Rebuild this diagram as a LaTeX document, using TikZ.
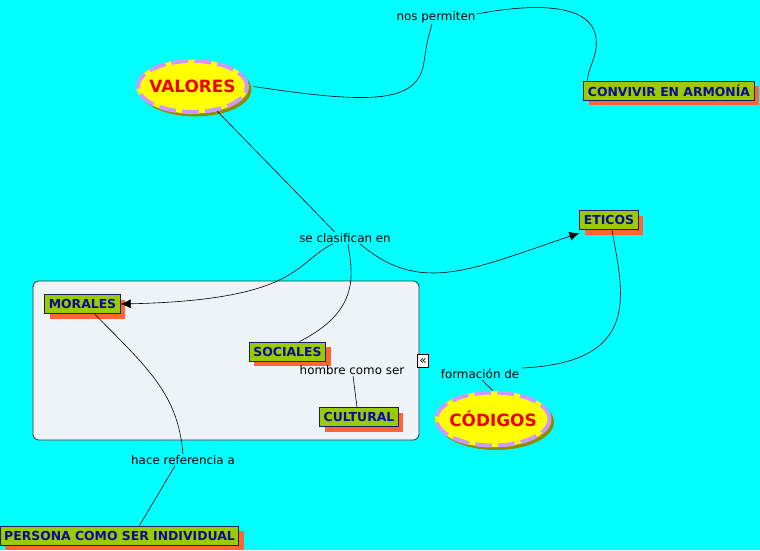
\documentclass[tikz,border=0pt]{standalone}
\usepackage{fontspec}
\setmainfont{DejaVu Sans}
\usetikzlibrary{shadows,calc,arrows.meta,shapes.geometric}
\definecolor{bgcyan}{HTML}{00FFFF}
\definecolor{boxgreen}{HTML}{99CC00}
\definecolor{boxtext}{HTML}{0A0A9E}
\definecolor{boxline}{HTML}{1A1A66}
\definecolor{shadoworange}{HTML}{FF6633}
\definecolor{ellyellow}{HTML}{FFFF00}
\definecolor{elldash}{HTML}{CC99FF}
\definecolor{ellshadow}{HTML}{8C8C00}
\definecolor{ellred}{HTML}{F00000}
\definecolor{contfill}{HTML}{EDF3F6}
\definecolor{contline}{HTML}{333333}
\tikzset{
  concept/.style={draw=boxline, line width=1pt, fill=boxgreen, text=boxtext,
    font=\fontsize{12.4}{14}\selectfont\bfseries, inner xsep=4pt, inner ysep=0pt,
    minimum height=19pt,
    drop shadow={shadow xshift=5pt, shadow yshift=-5pt, fill=shadoworange, opacity=1}},
  oval/.style={ellipse, minimum width=112pt, minimum height=54pt,
    text=ellred, font=\fontsize{16.9}{19}\selectfont\bfseries, inner sep=0pt},
  ovalshadow/.style={fill=ellshadow},
  ovalfill/.style={fill=ellyellow},
  ovalrim/.style={draw=elldash, line width=4pt, dash pattern=on 17pt off 6pt},
  lbl/.style={font=\fontsize{11.9}{14}\selectfont, text=black, inner sep=1pt},
  conn/.style={draw=black, line width=0.6pt},
  arr/.style={conn, -{Latex[length=10pt,width=9pt]}}
}
\begin{document}
\begin{tikzpicture}[x=1pt,y=1pt]
\fill[bgcyan] (0,0) rectangle (760,-550);
\useasboundingbox (0,0) rectangle (760,-550);
% container
\draw[contline, fill=contfill, line width=0.8pt, rounded corners=6pt] (33,-281) rectangle (419,-440);
\node[draw=black, fill=white, line width=0.6pt, minimum width=11pt, minimum height=13pt, inner sep=0pt, font=\fontsize{12}{12}\selectfont] (icon) at (423,-361) {«};
% ellipses
\fill[ovalshadow] (195.5,-89.5) ellipse [x radius=56pt, y radius=27pt];
\fill[ovalfill] (192.5,-86.5) ellipse [x radius=56pt, y radius=27pt];
\draw[ovalrim] (192.5,-86.5) ellipse [x radius=54.5pt, y radius=25.5pt];
\node[oval] (valores) at (192.5,-86.5) {VALORES};
\fill[ovalshadow] (496,-422) ellipse [x radius=58pt, y radius=28pt];
\fill[ovalfill] (493,-419) ellipse [x radius=58pt, y radius=28pt];
\draw[ovalrim] (493,-419) ellipse [x radius=56.5pt, y radius=26.5pt];
\node[oval, minimum width=116pt, minimum height=56pt] (codigos) at (493,-419) {CÓDIGOS};
% concepts
\node[concept] (convivir) at (669,-90.5) {CONVIVIR EN ARMONÍA};
\node[concept] (morales) at (82.5,-304) {MORALES};
\node[concept] (sociales) at (287.5,-351.5) {SOCIALES};
\node[concept] (cultural) at (359,-417) {CULTURAL};
\node[concept] (eticos) at (609,-220) {ETICOS};
\node[concept] (persona) at (119.5,-535.5) {PERSONA COMO SER INDIVIDUAL};
% labels
\node[lbl] (nos) at (436,-17) {nos permiten};
\node[lbl] (clas) at (345,-238) {se clasifican en};
\node[lbl] (hombre) at (352,-370) {hombre como ser};
\node[lbl] (formacion) at (480,-374) {formación de};
\node[lbl] (hace) at (183,-460) {hace referencia a};
% connectors
\draw[conn] (valores.east) .. controls (370,-104) and (418,-104) .. (424,-62)
  .. controls (427,-42) .. ($(nos.south)+(-4,0)$);
\draw[conn] ($(nos.east)+(0,3)$) .. controls (540,-2) and (592,-5) .. (596,-38)
  .. controls (598,-58) and (588,-66) .. ($(convivir.north west)+(4,0)$);
\draw[conn] (valores.-45) -- ($(clas.north)+(-10,0)$);
\draw[arr] ($(clas.south)+(-12,0)$) .. controls (295,-262) and (300,-300) .. (morales.east);
\draw[conn] ($(clas.south)+(3,0)$) .. controls (352,-272) and (362,-310) .. ($(sociales.north)+(12,0)$);
\draw[arr] ($(clas.south)+(15,0)$) .. controls (420,-295) and (470,-270) .. ($(eticos.south west)+(0,-3)$);
\draw[conn] ($(eticos.south)+(3,0)$) .. controls (622,-290) and (645,-362) .. ($(formacion.east)+(2,6)$);
\draw[conn] ($(formacion.south)+(2,0)$) -- (codigos.north);
\draw[conn] ($(morales.south)+(12,0)$) .. controls (150,-370) and (178,-395) .. (hace.north);
\draw[conn] ($(hace.south)+(-8,0)$) -- ($(persona.north)+(20,0)$);
\draw[conn] ($(hombre.south)+(1,0)$) -- ($(cultural.north)+(-2,0)$);
\end{tikzpicture}
\end{document}
